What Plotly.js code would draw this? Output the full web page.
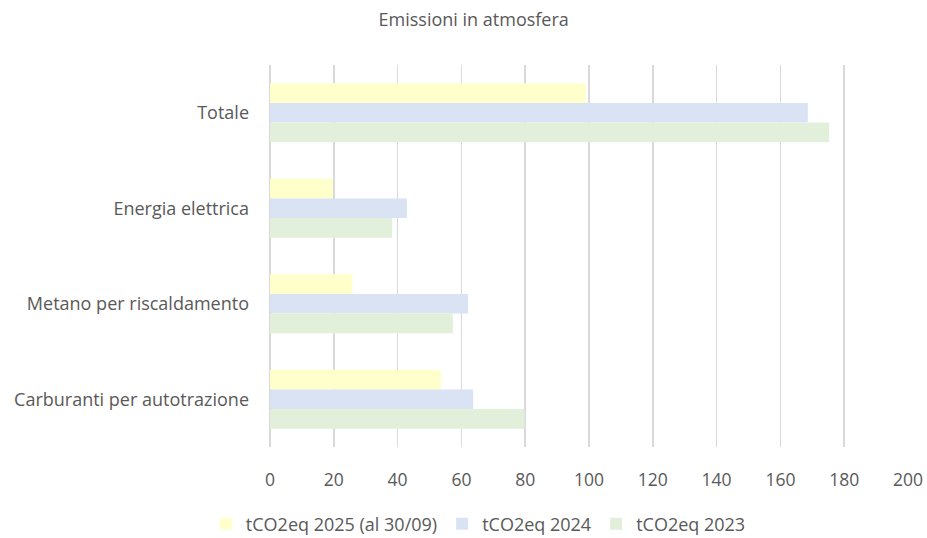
<!DOCTYPE html>
<html>
<head>
<meta charset="utf-8">
<script src="https://cdn.plot.ly/plotly-3.0.1.min.js"></script>
<style>html,body{margin:0;padding:0;background:#fff;}#chart{width:927px;height:538px;}</style>
</head>
<body>
<div id="chart"></div>
<script>
const categories = ["Totale", "Energia elettrica", "Metano per riscaldamento", "Carburanti per autotrazione"];
const seriesNames = ["tCO2eq 2025 (al 30/09)", "tCO2eq 2024", "tCO2eq 2023"];
const values2025 = [99.0, 19.7, 25.8, 53.6];
const values2024 = [168.6, 42.9, 62.1, 63.7];
const values2023 = [175.3, 38.3, 57.3, 79.8];
const colors = ["#FFFFCC", "#DAE3F3", "#E2EFDA"];
const xTicks = [0, 20, 40, 60, 80, 100, 120, 140, 160, 180, 200];

const allValues = [values2025, values2024, values2023];
const traces = allValues.map((v, i) => ({
  type: "bar",
  orientation: "h",
  name: seriesNames[i],
  y: categories,
  x: v,
  marker: {color: colors[i], line: {width: 0}},
  hoverinfo: "x+name"
}));

const font = {family: "'Open Sans', Lato, sans-serif", color: "#595959"};

const layout = {
  width: 927, height: 538,
  paper_bgcolor: "#ffffff", plot_bgcolor: "#ffffff",
  margin: {l: 270, r: 19, t: 65, b: 91, autoexpand: false},
  barmode: "group",
  bargap: 0.38,
  bargroupgap: 0,
  font: Object.assign({size: 18}, font),
  title: {text: "Emissioni in atmosfera", x: 0.511, xanchor: "center", y: 0.963, yanchor: "middle",
          font: Object.assign({}, font, {size: 18})},
  xaxis: {
    range: [0, 200], tickvals: xTicks, ticktext: xTicks.map(String),
    showgrid: true, gridcolor: "#d9d9d9", gridwidth: 1.5,
    zeroline: true, zerolinecolor: "#d9d9d9", zerolinewidth: 1.5,
    showline: false, ticks: "", ticklabelstandoff: 20,
    tickfont: Object.assign({}, font, {size: 17.5}), fixedrange: true, automargin: false
  },
  yaxis: {
    type: "category", categoryorder: "array", categoryarray: categories,
    autorange: "reversed", showgrid: false, zeroline: false, showline: false,
    ticks: "", ticklabelstandoff: 20,
    tickfont: Object.assign({}, font, {size: 18}), fixedrange: true, automargin: false
  },
  showlegend: true,
  legend: {orientation: "h", xref: "container", yref: "container",
           x: 0.516, xanchor: "center", y: 0.026, yanchor: "middle",
           font: Object.assign({}, font, {size: 18}), traceorder: "normal",
           itemwidth: 30, bgcolor: "rgba(0,0,0,0)"}
};

Plotly.newPlot("chart", traces, layout, {displayModeBar: false, staticPlot: true});
</script>
</body>
</html>
